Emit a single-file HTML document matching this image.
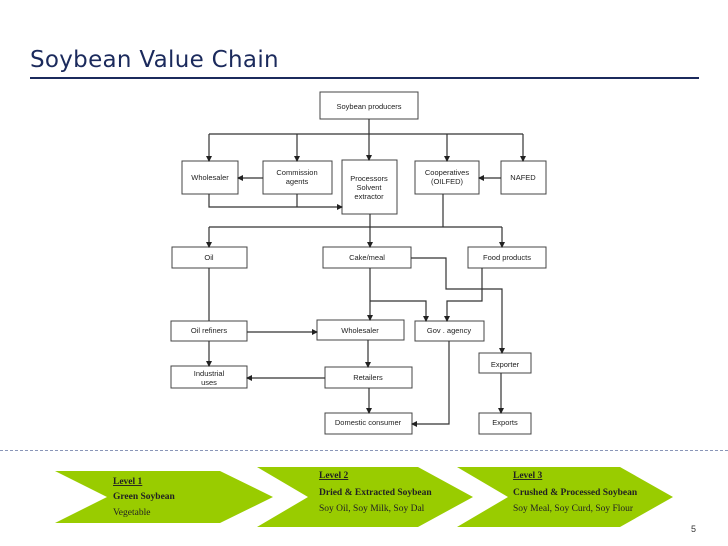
<!DOCTYPE html>
<html><head><style>
body{margin:0;width:728px;height:546px;background:#fff;position:relative;overflow:hidden;font-family:"Liberation Sans",sans-serif}
.t{position:absolute;left:30px;top:47px;font-size:23px;color:#1b2a5c;font-family:"DejaVu Sans","Liberation Sans",sans-serif;letter-spacing:0.3px}
.hl{position:absolute;left:30px;top:77px;width:669px;height:2px;background:#1b2a5c}
.dl{position:absolute;left:0;top:450px;width:728px;border-top:1px dashed #8a96b8}
.pg{position:absolute;left:691px;top:524px;font-size:9px;color:#333}
</style></head><body>
<div class="t">Soybean Value Chain</div>
<div class="hl"></div>
<div class="dl"></div>
<svg width="728" height="546" style="position:absolute;left:0;top:0">
<defs><marker id="a" markerWidth="6" markerHeight="6" refX="5" refY="3" orient="auto" markerUnits="userSpaceOnUse"><path d="M0,0 L6,3 L0,6z" fill="#222"/></marker></defs>
<g fill="#fff" stroke="#444" stroke-width="1">
<rect x="320" y="92" width="98" height="27"/>
<rect x="182" y="161" width="56" height="33"/>
<rect x="263" y="161" width="69" height="33"/>
<rect x="342" y="160" width="55" height="54"/>
<rect x="415" y="161" width="64" height="33"/>
<rect x="501" y="161" width="45" height="33"/>
<rect x="172" y="247" width="75" height="21"/>
<rect x="323" y="247" width="88" height="21"/>
<rect x="468" y="247" width="78" height="21"/>
<rect x="171" y="321" width="76" height="20"/>
<rect x="317" y="320" width="87" height="20"/>
<rect x="415" y="321" width="69" height="20"/>
<rect x="171" y="366" width="76" height="22"/>
<rect x="325" y="367" width="87" height="21"/>
<rect x="479" y="353" width="52" height="20"/>
<rect x="325" y="413" width="87" height="21"/>
<rect x="479" y="413" width="52" height="21"/>
</g>
<g fill="none" stroke="#333" stroke-width="1.2">
<path d="M369,119 V160" marker-end="url(#a)"/>
<path d="M209,134 H523"/>
<path d="M209,134 V161" marker-end="url(#a)"/>
<path d="M297,134 V161" marker-end="url(#a)"/>
<path d="M447,134 V161" marker-end="url(#a)"/>
<path d="M523,134 V161" marker-end="url(#a)"/>
<path d="M263,178 H238" marker-end="url(#a)"/>
<path d="M501,178 H479" marker-end="url(#a)"/>
<path d="M209,194 V207 H342" marker-end="url(#a)"/>
<path d="M297,194 V207"/>
<path d="M443,194 V227"/>
<path d="M209,227 H502"/>
<path d="M209,227 V247" marker-end="url(#a)"/>
<path d="M502,227 V247" marker-end="url(#a)"/>
<path d="M370,214 V247" marker-end="url(#a)"/>
<path d="M209,268 V321"/>
<path d="M370,268 V320" marker-end="url(#a)"/>
<path d="M370,301 H426 V321" marker-end="url(#a)"/>
<path d="M411,258 H446 V289 H502 V353" marker-end="url(#a)"/>
<path d="M482,268 V301 H447 V321" marker-end="url(#a)"/>
<path d="M247,332 H317" marker-end="url(#a)"/>
<path d="M209,341 V366" marker-end="url(#a)"/>
<path d="M368,340 V367" marker-end="url(#a)"/>
<path d="M325,378 H247" marker-end="url(#a)"/>
<path d="M369,388 V413" marker-end="url(#a)"/>
<path d="M449,341 V424 H412" marker-end="url(#a)"/>
<path d="M501,373 V413" marker-end="url(#a)"/>
</g>
<g font-family="Liberation Sans,sans-serif" font-size="7.5" fill="#222" text-anchor="middle">
<text x="369" y="109">Soybean producers</text>
<text x="210" y="180">Wholesaler</text>
<text x="297" y="175">Commission</text><text x="297" y="184">agents</text>
<text x="369" y="181">Processors</text><text x="369" y="190">Solvent</text><text x="369" y="199">extractor</text>
<text x="447" y="175">Cooperatives</text><text x="447" y="184">(OILFED)</text>
<text x="523" y="180">NAFED</text>
<text x="209" y="260">Oil</text>
<text x="367" y="260">Cake/meal</text>
<text x="507" y="260">Food products</text>
<text x="209" y="333">Oil refiners</text>
<text x="360" y="333">Wholesaler</text>
<text x="449" y="333">Gov . agency</text>
<text x="209" y="376">Industrial</text><text x="209" y="385">uses</text>
<text x="368" y="380">Retailers</text>
<text x="505" y="367">Exporter</text>
<text x="368" y="425">Domestic consumer</text>
<text x="505" y="425">Exports</text>
</g>
<g fill="#99cc00">
<polygon points="55,471 220,471 273,497 220,523 55,523 107,497"/>
<polygon points="257,467 418,467 473,497 418,527 257,527 308,497"/>
<polygon points="457,467 620,467 673,497 620,527 457,527 508,497"/>
</g>
<g font-family="Liberation Serif,serif" font-size="9.5" fill="#222">
<text x="113" y="484" font-weight="bold" text-decoration="underline">Level 1</text>
<text x="113" y="499" font-weight="bold">Green Soybean</text>
<text x="113" y="515">Vegetable</text>
<text x="319" y="478" font-weight="bold" text-decoration="underline">Level 2</text>
<text x="319" y="495" font-weight="bold">Dried &amp; Extracted Soybean</text>
<text x="319" y="511">Soy Oil, Soy Milk, Soy Dal</text>
<text x="513" y="478" font-weight="bold" text-decoration="underline">Level 3</text>
<text x="513" y="495" font-weight="bold">Crushed &amp; Processed Soybean</text>
<text x="513" y="511">Soy Meal, Soy Curd, Soy Flour</text>
</g>
</svg>
<div class="pg">5</div>
</body></html>
